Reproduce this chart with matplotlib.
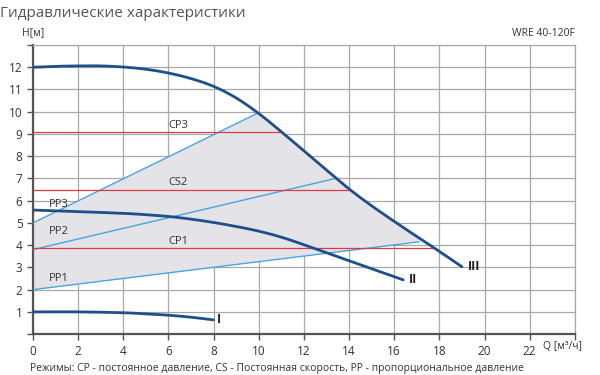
import matplotlib
matplotlib.use("Agg")
import matplotlib.pyplot as plt
import numpy as np

plt.rcParams['font.family'] = ['Open Sans', 'DejaVu Sans']

# pump curves
q_max = [0, 1, 2, 3, 4, 5, 6, 7, 8, 9, 10, 11, 12, 13, 14, 15, 16, 17, 18, 19]
h_max = [12.0, 12.04, 12.06, 12.06, 12.01, 11.91, 11.74, 11.49, 11.14, 10.62,
         9.92, 9.1, 8.24, 7.38, 6.53, 5.77, 5.07, 4.39, 3.72, 3.03]

q_mid = [0, 2, 4, 5, 6, 7, 8, 9, 10, 11, 12, 13, 14, 15, 16, 16.4]
h_mid = [5.58, 5.51, 5.43, 5.37, 5.29, 5.17, 5.02, 4.84, 4.63, 4.36, 4.02, 3.66, 3.3, 2.94, 2.58, 2.44]

q_min = [0, 2, 4, 5, 6, 7, 8]
h_min = [1.0, 1.0, 0.96, 0.91, 0.85, 0.76, 0.64]

# proportional pressure lines (start, end)
pp_names = ['PP1', 'PP2', 'PP3']
pp_q = [[0, 17.1], [0, 13.4], [0, 9.92]]
pp_h = [[2.0, 4.15], [3.8, 7.0], [5.0, 9.92]]
pp_label_h = [2.5, 4.6, 5.85]

# constant pressure lines
cp_names = ['CP1', 'CS2', 'CP3']
cp_h = [3.85, 6.5, 9.1]
cp_qend = [17.7, 14.0, 11.0]

dark = '#1f4f8a'
light = '#45a6dc'
red = '#dc3c44'


def smooth(q, h):
    # piecewise cubic (Catmull-Rom) through the read points, just for drawing
    q = np.asarray(q, float)
    h = np.asarray(h, float)
    pq = np.concatenate([[2 * q[0] - q[1]], q, [2 * q[-1] - q[-2]]])
    ph = np.concatenate([[2 * h[0] - h[1]], h, [2 * h[-1] - h[-2]]])
    out_q, out_h = [], []
    t = np.linspace(0, 1, 20, endpoint=False)
    for i in range(1, len(pq) - 2):
        for arr, res in ((pq, out_q), (ph, out_h)):
            p0, p1, p2, p3 = arr[i - 1], arr[i], arr[i + 1], arr[i + 2]
            res.extend(0.5 * (2 * p1 + (-p0 + p2) * t + (2 * p0 - 5 * p1 + 4 * p2 - p3) * t ** 2
                              + (-p0 + 3 * p1 - 3 * p2 + p3) * t ** 3))
    out_q.append(q[-1])
    out_h.append(h[-1])
    return np.array(out_q), np.array(out_h)


fig = plt.figure(figsize=(6, 3.75), dpi=100)
ax = fig.add_axes([0.055, 0.109, 0.903, 0.771])

# shaded working area: PP1 below, curve III and PP3 above
sq, sh = smooth(q_max, h_max)
sel = (sq > pp_q[2][1]) & (sq < pp_q[0][1])
top_q = np.concatenate([pp_q[2], sq[sel], [pp_q[0][1]]])
top_h = np.concatenate([pp_h[2], sh[sel], [pp_h[0][1]]])
poly_q = np.concatenate([top_q, pp_q[0][::-1]])
poly_h = np.concatenate([top_h, pp_h[0][::-1]])
ax.fill(poly_q, poly_h, color='#e4e4e8', zorder=1, lw=0)

for name, qq, hh, lh in zip(pp_names, pp_q, pp_h, pp_label_h):
    ax.plot(qq, hh, color=light, lw=1.0, zorder=3)
    ax.text(0.7, lh, name, fontsize=8, color='#333333', va='center', zorder=5)

for name, h, qe in zip(cp_names, cp_h, cp_qend):
    ax.plot([0, qe], [h, h], color=red, lw=0.9, zorder=3)
    ax.text(6.0, h + 0.3, name, fontsize=8, color='#333333', va='center', zorder=5)

for qq, hh in [(q_max, h_max), (q_mid, h_mid), (q_min, h_min)]:
    cq, ch = smooth(qq, hh)
    ax.plot(cq, ch, color=dark, lw=2.0, zorder=4, solid_capstyle='round')

ax.text(8.15, h_min[-1], 'I', fontsize=9, fontweight='bold', va='center', color='#222222')
ax.text(16.65, h_mid[-1], 'II', fontsize=9, fontweight='bold', va='center', color='#222222')
ax.text(19.25, h_max[-1], 'III', fontsize=9, fontweight='bold', va='center', color='#222222')

ax.set_xlim(0, 24)
ax.set_ylim(0, 13)
ax.set_xticks(range(0, 25, 2))
ax.set_xticklabels([str(v) for v in range(0, 23, 2)] + [''])
ax.set_yticks(range(0, 14))
ax.set_yticklabels([''] + [str(v) for v in range(1, 13)] + [''])
ax.grid(True, color='#a8a8a8', lw=0.9, zorder=0)
ax.set_axisbelow(True)
for s in ['top', 'right']:
    ax.spines[s].set_color('#a8a8a8')
    ax.spines[s].set_linewidth(0.9)
for s in ['left', 'bottom']:
    ax.spines[s].set_color('#555555')
    ax.spines[s].set_linewidth(1.6)
ax.tick_params(labelsize=8.5, colors='#555555', labelcolor='#333333', length=4, width=1)

fig.text(0.0, 0.985, 'Гидравлические характеристики', fontsize=11, color='#555555', va='top')
fig.text(0.037, 0.912, 'H[м]', fontsize=7.5, color='#333333', va='center')
fig.text(0.958, 0.912, 'WRE 40-120F', fontsize=7.5, color='#333333', va='center', ha='right')
fig.text(0.905, 0.075, 'Q [м³/ч]', fontsize=7.5, color='#333333', va='center')
fig.text(0.05, 0.018, 'Режимы: CP - постоянное давление, CS - Постоянная скорость, PP - пропорциональное давление',
         fontsize=7.5, color='#333333', va='center')

fig.savefig('out.png', dpi=100)
